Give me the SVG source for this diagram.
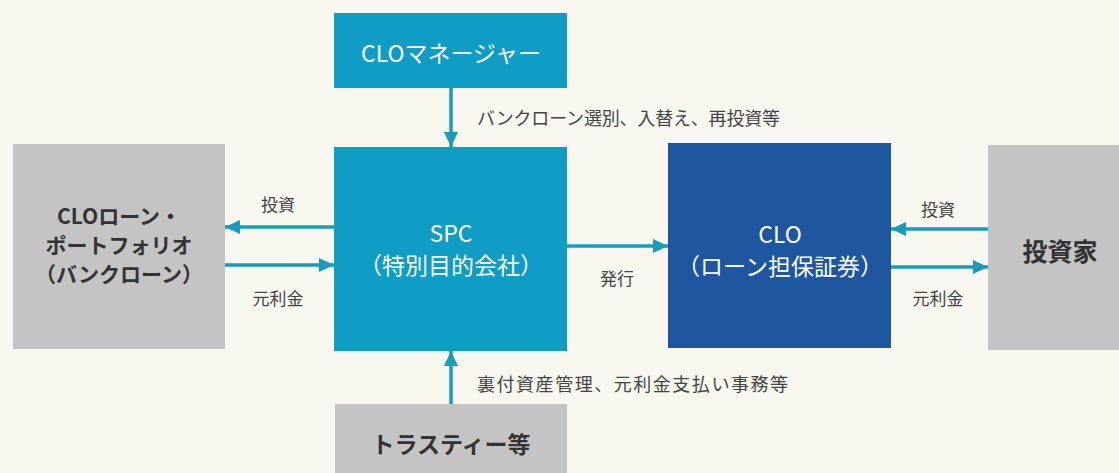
<svg xmlns="http://www.w3.org/2000/svg" width="1119" height="473" viewBox="0 0 1119 473">
<defs>
<style>
text{font-family:"Noto Sans CJK JP","Noto Sans",sans-serif;text-anchor:middle;dominant-baseline:central}
.teal{fill:#0f9cc5}
.navy{fill:#1f56a0}
.gray{fill:#c4c4c4}
.wt{fill:#ffffff;font-size:23px;font-weight:400}
.dk{fill:#333333;font-size:22px;font-weight:700}
.lb{fill:#444444;font-size:17px;font-weight:400}
.cn{stroke:#1a9abd;stroke-width:3.5;fill:none;marker-end:url(#ah)}
</style>
<marker id="ah" markerUnits="userSpaceOnUse" viewBox="0 0 15 14" refX="15" refY="7" markerWidth="15" markerHeight="14" orient="auto">
<path d="M0,0 L15,7 L0,14 Z" fill="#1a9abd"/>
</marker>
</defs>
<rect width="1119" height="473" fill="#f8f7f0"/>
<g id="clo-manager">
<rect class="teal" x="334" y="13" width="233" height="75"/>
<text class="wt" x="451" y="52">CLOマネージャー</text>
</g>
<g id="loan-portfolio">
<rect class="gray" x="13" y="144" width="212" height="205"/>
<text class="dk" x="119" y="215" style="font-size:21px">CLOローン・</text>
<text class="dk" x="119" y="244" style="font-size:21px">ポートフォリオ</text>
<text class="dk" x="119" y="273" style="font-size:21px">（バンクローン）</text>
</g>
<g id="spc">
<rect class="teal" x="334" y="147" width="233" height="204"/>
<text class="wt" x="451" y="232">SPC</text>
<text class="wt" x="451" y="264">（特別目的会社）</text>
</g>
<g id="clo">
<rect class="navy" x="668" y="143" width="223" height="205"/>
<text class="wt" x="780" y="233">CLO</text>
<text class="wt" x="780" y="265">（ローン担保証券）</text>
</g>
<g id="investor">
<rect class="gray" x="988" y="145" width="131" height="205"/>
<text class="dk" x="1060" y="250" style="font-size:25px">投資家</text>
</g>
<g id="trustee">
<rect class="gray" x="335" y="404" width="232" height="69"/>
<text class="dk" x="451" y="443" style="font-size:23px">トラスティー等</text>
</g>
<g id="connectors">
<line class="cn" x1="451" y1="88" x2="451" y2="147"/>
<line class="cn" x1="451" y1="404" x2="451" y2="351"/>
<line class="cn" x1="334" y1="227" x2="225" y2="227"/>
<line class="cn" x1="225" y1="265" x2="334" y2="265"/>
<line class="cn" x1="567" y1="246" x2="668" y2="246"/>
<line class="cn" x1="988" y1="229" x2="891" y2="229"/>
<line class="cn" x1="891" y1="267" x2="988" y2="267"/>
</g>
<g id="labels">
<text class="lb" x="477" y="117" style="text-anchor:start;font-size:18px" textLength="303" lengthAdjust="spacing">バンクローン選別、入替え、再投資等</text>
<text class="lb" x="477" y="383" style="text-anchor:start;font-size:18px" textLength="311" lengthAdjust="spacing">裏付資産管理、元利金支払い事務等</text>
<text class="lb" x="278" y="203">投資</text>
<text class="lb" x="278" y="297">元利金</text>
<text class="lb" x="617" y="277">発行</text>
<text class="lb" x="938" y="208">投資</text>
<text class="lb" x="938" y="297">元利金</text>
</g>
</svg>
